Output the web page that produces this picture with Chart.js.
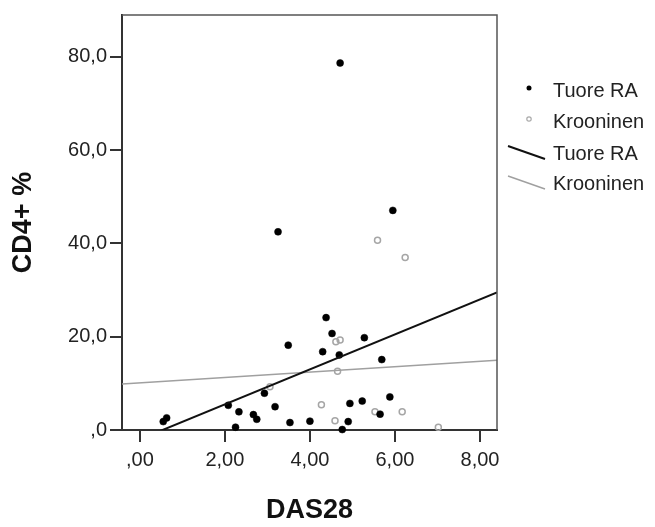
<!DOCTYPE html>
<html>
<head>
<meta charset="utf-8">
<script src="https://cdn.jsdelivr.net/npm/chart.js@4.4.0/dist/chart.umd.min.js"></script>
<style>
  html, body { margin: 0; padding: 0; background: #fff; }
  #wrap { width: 655px; height: 527px; }
</style>
</head>
<body>
<div id="wrap"><canvas id="grafico"></canvas></div>
<script>
// DAS28 (x) ja CD4+ % (y), tuore RA
const tuoreDas = [0.55, 0.63, 2.08, 2.25, 2.33, 2.67, 2.75, 2.93, 3.18, 3.25, 3.49, 3.53, 4.00, 4.30,
    4.38, 4.52, 4.69, 4.71, 4.76, 4.90, 4.94, 5.23, 5.28, 5.65, 5.69, 5.88, 5.95];
const tuoreCd4 = [1.8, 2.6, 5.3, 0.6, 3.9, 3.3, 2.3, 7.9, 5.0, 42.5, 18.2, 1.6, 1.9, 16.8,
    24.1, 20.7, 16.1, 78.7, 0.1, 1.8, 5.7, 6.2, 19.8, 3.4, 15.1, 7.1, 47.1];
// krooninen RA
const kroonDas = [3.06, 4.27, 4.59, 4.61, 4.65, 4.71, 5.53, 5.59, 6.17, 6.24, 7.02];
const kroonCd4 = [9.3, 5.4, 2.0, 18.9, 12.6, 19.3, 3.9, 40.7, 3.9, 37.0, 0.6];
// sovitussuorat (kulmakerroin, vakio)
const tuoreFit = { slope: 3.75, intercept: -2.0 };
const kroonFit = { slope: 0.58, intercept: 10.1 };

const xTicks = [0, 2, 4, 6, 8];
const yTicks = [0, 20, 40, 60, 80];
const xRange = [-0.42, 8.4];
const yRange = [0, 89];
const groups = ['Tuore RA', 'Krooninen'];

const fontFamily = 'Arial, "Liberation Sans", sans-serif';
const tickFont = { family: fontFamily, size: 20 };

function toPoints(xs, ys) {
    return xs.map((x, i) => ({ x: x, y: ys[i] }));
}
function fitLine(fit) {
    return xRange.map(x => ({ x: x, y: fit.intercept + fit.slope * x }));
}
// SPSS-tyyliset luvut: pilkku desimaalina, ei etunollaa
function fmt(v, d) {
    let s = Number(v).toFixed(d).replace('.', ',');
    if (s.startsWith('0,')) s = s.slice(1);
    return s;
}

// kehys, akselien otsikot ja selite
const extras = {
    id: 'extras',
    afterDraw(chart) {
        const ctx = chart.ctx;
        const a = chart.chartArea;
        ctx.save();
        ctx.strokeStyle = '#555';
        ctx.lineWidth = 1.5;
        ctx.beginPath();
        ctx.moveTo(a.left, a.top);
        ctx.lineTo(a.right, a.top);
        ctx.lineTo(a.right, a.bottom);
        ctx.stroke();

        ctx.fillStyle = '#111';
        ctx.font = 'bold 27px ' + fontFamily;
        ctx.textAlign = 'center';
        ctx.textBaseline = 'middle';
        ctx.fillText('DAS28', (a.left + a.right) / 2, 511);
        ctx.save();
        ctx.translate(24, (a.top + a.bottom) / 2);
        ctx.rotate(-Math.PI / 2);
        ctx.fillText('CD4+ %', 0, 0);
        ctx.restore();

        // selite
        const mx = a.right + 32;
        const tx = a.right + 56;
        const rows = [a.top + 76, a.top + 107, a.top + 139, a.top + 169];
        ctx.font = '20px ' + fontFamily;
        ctx.textAlign = 'left';
        ctx.fillStyle = '#222';
        ctx.fillText(groups[0], tx, rows[0]);
        ctx.fillText(groups[1], tx, rows[1]);
        ctx.fillText(groups[0], tx, rows[2]);
        ctx.fillText(groups[1], tx, rows[3]);

        ctx.fillStyle = '#000';
        ctx.beginPath();
        ctx.arc(mx, rows[0] - 3, 2.5, 0, Math.PI * 2);
        ctx.fill();
        ctx.strokeStyle = '#aaa';
        ctx.lineWidth = 1.2;
        ctx.beginPath();
        ctx.arc(mx, rows[1] - 3, 2.2, 0, Math.PI * 2);
        ctx.stroke();

        ctx.strokeStyle = '#111';
        ctx.lineWidth = 2;
        ctx.beginPath();
        ctx.moveTo(a.right + 11, rows[2] - 8);
        ctx.lineTo(a.right + 48, rows[2] + 5);
        ctx.stroke();
        ctx.strokeStyle = '#a0a0a0';
        ctx.lineWidth = 1.5;
        ctx.beginPath();
        ctx.moveTo(a.right + 11, rows[3] - 8);
        ctx.lineTo(a.right + 48, rows[3] + 5);
        ctx.stroke();
        ctx.restore();
    }
};

const datos = {
    datasets: [
        {
            label: groups[0],
            data: toPoints(tuoreDas, tuoreCd4),
            pointRadius: 3.5,
            pointBackgroundColor: '#000',
            pointBorderColor: '#000',
            pointBorderWidth: 0.5,
            clip: false,
            order: 1
        },
        {
            label: groups[1],
            data: toPoints(kroonDas, kroonCd4),
            pointRadius: 3,
            pointBackgroundColor: 'rgba(255,255,255,0)',
            pointBorderColor: '#a6a6a6',
            pointBorderWidth: 1.5,
            clip: false,
            order: 2
        },
        {
            type: 'line',
            label: groups[0],
            data: fitLine(tuoreFit),
            borderColor: '#111',
            borderWidth: 2,
            pointRadius: 0,
            fill: false,
            order: 0
        },
        {
            type: 'line',
            label: groups[1],
            data: fitLine(kroonFit),
            borderColor: '#a0a0a0',
            borderWidth: 1.5,
            pointRadius: 0,
            fill: false,
            order: 0
        }
    ]
};

const config = {
    type: 'scatter',
    data: datos,
    options: {
        responsive: true,
        maintainAspectRatio: false,
        animation: false,
        layout: { padding: { top: 14, right: 158, left: 0, bottom: 0 } },
        plugins: {
            legend: { display: false },
            tooltip: { enabled: false }
        },
        scales: {
            x: {
                type: 'linear',
                min: xRange[0],
                max: xRange[1],
                afterBuildTicks: s => { s.ticks = xTicks.map(v => ({ value: v })); },
                afterFit: s => { s.height = 97; },
                border: { color: '#333', width: 2 },
                grid: { drawOnChartArea: false, tickLength: 12, color: '#333', lineWidth: 2 },
                ticks: { font: tickFont, color: '#222', padding: 6, maxRotation: 0, callback: v => fmt(v, 2) }
            },
            y: {
                type: 'linear',
                min: yRange[0],
                max: yRange[1],
                afterBuildTicks: s => { s.ticks = yTicks.map(v => ({ value: v })); },
                afterFit: s => { s.width = 122; },
                border: { color: '#333', width: 2 },
                grid: { drawOnChartArea: false, tickLength: 12, color: '#333', lineWidth: 2 },
                ticks: { font: tickFont, color: '#222', padding: 3, callback: v => fmt(v, 1) }
            }
        }
    },
    plugins: [extras]
};

new Chart(document.getElementById('grafico'), config);
</script>
</body>
</html>
